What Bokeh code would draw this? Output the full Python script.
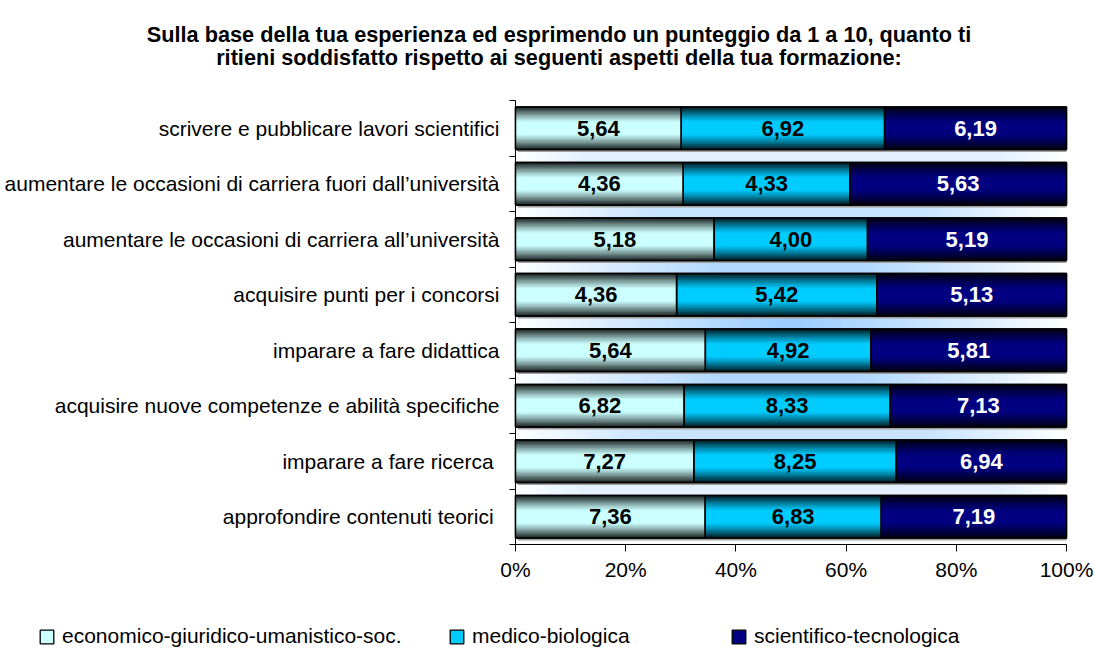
import numpy as np
from bokeh.plotting import figure
from bokeh.models import (ColumnDataSource, Range1d, FixedTicker, NumeralTickFormatter,
                          Label, Legend, LegendItem)
from bokeh.core.properties import value
from bokeh.embed import file_html
from bokeh.resources import INLINE

# ---------------- data ----------------
categories = [
    "scrivere e pubblicare lavori scientifici",
    "aumentare le occasioni di carriera fuori dall\u2019universit\u00e0",
    "aumentare le occasioni di carriera all\u2019universit\u00e0",
    "acquisire punti per i concorsi",
    "imparare a fare didattica",
    "acquisire nuove competenze e abilit\u00e0 specifiche",
    "imparare a fare ricerca ",
    "approfondire contenuti teorici ",
]
series_names = ["economico-giuridico-umanistico-soc.", "medico-biologica", "scientifico-tecnologica"]
economico = [5.64, 4.36, 5.18, 4.36, 5.64, 6.82, 7.27, 7.36]
medico = [6.92, 4.33, 4.00, 5.42, 4.92, 8.33, 8.25, 6.83]
scientifico = [6.19, 5.63, 5.19, 5.13, 5.81, 7.13, 6.94, 7.19]
x_ticks = [0.0, 0.2, 0.4, 0.6, 0.8, 1.0]
title_lines = [
    "Sulla base della tua esperienza ed esprimendo un punteggio da 1 a 10, quanto ti",
    "ritieni soddisfatto rispetto ai seguenti aspetti della tua formazione:",
]

# ---------------- styles / layout ----------------
FONT = "Liberation Sans"
base_colors = [(204, 255, 255), (0, 204, 255), (0, 0, 128)]
label_colors = ["black", "black", "white"]
BAR_H = 0.77
N_LEVELS = 16
W, H = 1095, 655
# pixel placement of the bar area inside the canvas
PL, PR, PT, PB = 515, 1066, 100, 544

def hexc(rgb):
    return "#%02x%02x%02x" % tuple(int(round(max(0, min(255, c)))) for c in rgb)

series = [economico, medico, scientifico]
n = len(categories)
idx = np.arange(n)
vals = np.array(series, dtype=float)
fracs = vals / vals.sum(axis=0)
lefts = np.vstack([np.zeros(n), np.cumsum(fracs, axis=0)[:-1]])
rights = np.cumsum(fracs, axis=0)

ux = 1.0 / (PR - PL)            # data units per pixel (x)
uy = n / (PB - PT)              # data units per pixel (y)
x0 = -PL * ux
x1 = 1 + (W - PR) * ux
ytop = -0.5 - PT * uy
ybot = n - 0.5 + (H - PB) * uy

p = figure(width=W, height=H, output_backend="svg", toolbar_location=None,
           x_range=Range1d(x0, x1), y_range=Range1d(ybot, ytop), min_border=0)
p.outline_line_color = None
p.grid.visible = False
p.background_fill_color = "white"
p.border_fill_color = "white"

# background "from centre" gradient (concentric rectangles) in the bar area
M = 60
cx, cy = 0.5, (n - 1) / 2
hw, hh = 0.5, n / 2
centre = np.array([153, 204, 255])
bg = dict(left=[], right=[], top=[], bottom=[], color=[])
for j in range(M):
    d = 1 - j / M
    t = (1 - d) ** 0.9
    bg["left"].append(cx - hw * d)
    bg["right"].append(cx + hw * d)
    bg["top"].append(cy - hh * d)
    bg["bottom"].append(cy + hh * d)
    bg["color"].append(hexc(np.array([255, 255, 255]) * (1 - t) + centre * t))
p.quad(left="left", right="right", top="top", bottom="bottom", fill_color="color",
       line_color=None, source=ColumnDataSource(bg))

# shadow
p.hbar(y=idx + 0.045, left=0.004, right=1.0, height=BAR_H, fill_color="#a0a0a0",
       line_color=None)

# base bars (also used by the legend)
base_renderers = []
for s in range(3):
    base_renderers.append(p.hbar(y=idx, left=lefts[s], right=rights[s], height=BAR_H,
                                 fill_color=hexc(base_colors[s]), line_color="black",
                                 line_width=1.3))

# vertical gradient: nested centred bars, darkest outside
nested = dict(y=[], left=[], right=[], height=[], color=[])
for s in range(3):
    base = np.array(base_colors[s], dtype=float)
    for k in range(N_LEVELS):
        e = 1 - k / N_LEVELS
        f = np.clip((e - 0.3) / 0.7, 0, 1) ** 1.2 * 0.85
        col = hexc(base * (1 - f))
        for i in range(n):
            nested["y"].append(i)
            nested["left"].append(lefts[s, i])
            nested["right"].append(rights[s, i])
            nested["height"].append(BAR_H * e)
            nested["color"].append(col)
p.hbar(y="y", left="left", right="right", height="height",
       fill_color="color", line_color=None, source=ColumnDataSource(nested))

# outlines
for s in range(3):
    p.hbar(y=idx, left=lefts[s], right=rights[s], height=BAR_H, fill_color=None,
           line_color="black", line_width=1.5)

# value labels
for s in range(3):
    src = ColumnDataSource(dict(x=(lefts[s] + rights[s]) / 2, y=idx,
                                t=[("%.2f" % v).replace(".", ",") for v in series[s]]))
    p.text(x="x", y="y", text="t", source=src, text_align="center", text_baseline="middle",
           text_font=value(FONT), text_font_style="bold", text_font_size="22px",
           text_color=label_colors[s])

# axes, fixed at the bar area's edges
p.yaxis.fixed_location = 0
p.yaxis.bounds = (-0.5, n - 0.5)
p.yaxis.ticker = FixedTicker(ticks=list(range(n)), minor_ticks=[i - 0.5 for i in range(n + 1)])
p.yaxis.major_label_overrides = {i: c for i, c in enumerate(categories)}
p.yaxis.major_tick_line_color = None
p.yaxis.major_tick_out = 0
p.yaxis.major_tick_in = 0
p.yaxis.minor_tick_out = 6
p.yaxis.minor_tick_in = 0
p.yaxis.minor_tick_line_color = "black"
p.yaxis.major_label_standoff = 10
p.yaxis.axis_line_color = "black"

p.xaxis.fixed_location = n - 0.5
p.xaxis.bounds = (0, 1)
p.xaxis.ticker = FixedTicker(ticks=x_ticks, minor_ticks=[])
p.xaxis.formatter = NumeralTickFormatter(format="0%")
p.xaxis.major_tick_out = 7
p.xaxis.major_tick_in = 0
p.xaxis.major_tick_line_color = "black"
p.xaxis.major_label_standoff = 6
p.xaxis.axis_line_color = "black"

for ax in (p.xaxis, p.yaxis):
    ax.major_label_text_font = FONT
    ax.major_label_text_font_size = "21px"
    ax.major_label_text_color = "black"

# title (two centred lines)
title_cx = (558.5 - PL) * ux
for line, py in zip(title_lines, [34, 57]):
    p.add_layout(Label(x=title_cx, y=-0.5 - (PT - py) * uy, text=line, text_align="center",
                       text_baseline="middle", text_font=FONT, text_font_style="bold",
                       text_font_size="21.7px", text_color="black"))

# legend: three single-item legends laid along one row
leg_x = [38, 448, 730]
for s in range(3):
    leg = Legend(items=[LegendItem(label=series_names[s], renderers=[base_renderers[s]])],
                 location=(leg_x[s], 7), orientation="horizontal", padding=0, margin=0,
                 border_line_color=None, background_fill_alpha=0, glyph_width=17,
                 glyph_height=17, label_standoff=7, label_text_font=FONT,
                 label_text_font_size="21px", label_text_color="black", spacing=0)
    p.add_layout(leg, "center")

open("out.html", "w").write(file_html(p, INLINE))
